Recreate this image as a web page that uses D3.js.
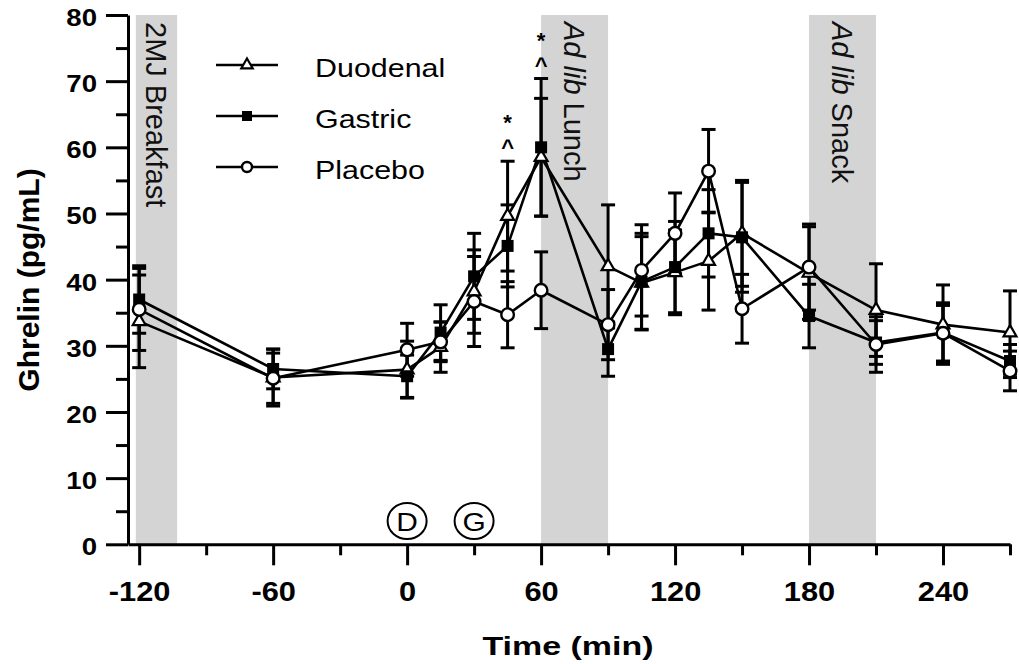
<!DOCTYPE html>
<html lang="en">
<head>
<meta charset="UTF-8">
<title>Ghrelin time course</title>
<script src="https://d3js.org/d3.v7.min.js"></script>
<style>
  html, body { margin: 0; padding: 0; background: #fff; }
  svg { display: block; font-family: "Liberation Sans", Arial, sans-serif; }
</style>
</head>
<body>
<div id="chart"></div>
<script>
// sampling times (min)
const times = [-120, -60, 0, 15, 30, 45, 60, 90, 105, 120, 135, 150, 180, 210, 240, 270];

// mean ghrelin (pg/mL) and SEM per group
const duodenal    = [33.7, 25.2, 26.4, 29.8, 38.2, 49.6, 58.5, 42.0, 39.5, 41.1, 42.8, 47.0, 41.0, 35.4, 33.2, 32.0];
const duodenalSem = [7.0, 4.3, 4.3, 3.8, 6.3, 8.3, 8.9, 9.3, 7.0, 6.4, 7.4, 8.0, 7.0, 7.0, 6.0, 6.3];
const gastric     = [37.0, 26.5, 25.4, 32.0, 40.5, 45.1, 60.0, 29.5, 39.7, 41.9, 47.0, 46.4, 34.5, 30.5, 32.0, 27.7];
const gastricSem  = [5.1, 3.0, 3.2, 4.2, 6.5, 6.2, 10.4, 4.1, 7.3, 6.9, 6.6, 8.3, 4.8, 3.3, 4.5, 2.5];
const placebo     = [35.5, 25.1, 29.4, 30.6, 36.7, 34.7, 38.4, 33.2, 41.4, 47.0, 56.4, 35.6, 41.9, 30.2, 31.9, 26.2];
const placeboSem  = [6.2, 3.8, 4.0, 3.0, 6.8, 5.0, 5.8, 5.3, 6.9, 6.1, 6.3, 5.2, 6.5, 4.2, 4.2, 3.0];

const seriesNames = ['Duodenal', 'Gastric', 'Placebo'];

// meal periods (min)
const mealStart = [-121.5, 60, 180];
const mealEnd   = [-103, 90, 210];
const mealLabels = [
  [['2MJ Breakfast', false]],
  [['Ad lib', true], [' Lunch', false]],
  [['Ad lib', true], [' Snack', false]]
];

// infusion markers and significance marks
const doseTimes  = [0, 30];
const doseLabels = ['D', 'G'];
const sigTimes   = [45, 60];

const xTicks = d3.range(-120, 271, 30);
const yTicks = d3.range(0, 81, 5);

const W = 1019, H = 664;
const svg = d3.select('#chart').append('svg')
  .attr('width', W)
  .attr('height', H);

const x = d3.scaleLinear().domain([-125, 270]).range([128, 1010]);
const y = d3.scaleLinear().domain([0, 80]).range([544.3, 15]);

// stretch text horizontally a bit, the original type is wide
function widen(sel, k) {
  sel.each(function () {
    const w = this.getComputedTextLength();
    if (w > 0) {
      d3.select(this).attr('textLength', w * k).attr('lengthAdjust', 'spacingAndGlyphs');
    }
  });
}

// meal bands
const meals = mealStart.map((s, i) => ({ start: s, end: mealEnd[i], parts: mealLabels[i] }));
svg.selectAll('rect.meal')
  .data(meals)
  .enter()
  .append('rect')
  .attr('class', 'meal')
  .attr('x', d => x(d.start))
  .attr('y', y(80))
  .attr('width', d => x(d.end) - x(d.start))
  .attr('height', y(0) - y(80))
  .attr('fill', '#d4d4d4');

meals.forEach(d => {
  const cx = (x(d.start) + x(d.end)) / 2;
  const t = svg.append('text')
    .attr('transform', `translate(${cx},22) rotate(90)`)
    .attr('dy', '0.35em')
    .attr('font-size', 29)
    .attr('fill', '#111');
  d.parts.forEach(p => {
    t.append('tspan')
      .attr('font-style', p[1] ? 'italic' : 'normal')
      .text(p[0]);
  });
});

// axes
const xAxis = svg.append('g')
  .attr('transform', `translate(0,${y(0)})`)
  .call(d3.axisBottom(x)
    .tickValues(xTicks)
    .tickSize(21)
    .tickSizeOuter(0)
    .tickPadding(16)
    .tickFormat(d => d % 60 === 0 && d <= 240 ? d : ''));
xAxis.selectAll('.tick line').filter(d => d % 60 !== 0).attr('y2', 11);
xAxis.selectAll('line, path').attr('stroke', '#000').attr('stroke-width', 3);
xAxis.selectAll('text')
  .attr('font-size', 28)
  .attr('font-weight', 'bold')
  .attr('font-family', '"Liberation Sans", Arial, sans-serif')
  .attr('fill', '#000')
  .call(widen, 1.1);

const yAxis = svg.append('g')
  .attr('transform', `translate(${x(-125)},0)`)
  .call(d3.axisLeft(y)
    .tickValues(yTicks)
    .tickSize(22)
    .tickSizeOuter(0)
    .tickPadding(9)
    .tickFormat(d => d % 10 === 0 ? d : ''));
yAxis.selectAll('.tick line').filter(d => d % 10 !== 0).attr('x2', -12);
yAxis.selectAll('line, path').attr('stroke', '#000').attr('stroke-width', 3);
yAxis.selectAll('text')
  .attr('font-size', 23)
  .attr('font-weight', 'bold')
  .attr('font-family', '"Liberation Sans", Arial, sans-serif')
  .attr('fill', '#000')
  .attr('dy', '0.45em')
  .call(widen, 1.2);

// axis titles
svg.append('text')
  .attr('x', 568)
  .attr('y', 655)
  .attr('text-anchor', 'middle')
  .attr('font-size', 26)
  .attr('font-weight', 'bold')
  .attr('textLength', 171)
  .attr('lengthAdjust', 'spacingAndGlyphs')
  .text('Time (min)');

svg.append('text')
  .attr('transform', 'translate(39,280) rotate(-90)')
  .attr('text-anchor', 'middle')
  .attr('font-size', 30)
  .attr('font-weight', 'bold')
  .text('Ghrelin (pg/mL)');

// data
const series = [
  { name: seriesNames[0], mean: duodenal, sem: duodenalSem, shape: 'triangle' },
  { name: seriesNames[1], mean: gastric, sem: gastricSem, shape: 'square' },
  { name: seriesNames[2], mean: placebo, sem: placeboSem, shape: 'circle' }
];
series.forEach(s => {
  s.points = times.map((t, i) => ({ t: t, v: s.mean[i], e: s.sem[i] }));
});

const capW = 7;
series.forEach(s => {
  const g = svg.append('g').attr('stroke', '#000').attr('stroke-width', 3);
  s.points.forEach(p => {
    g.append('line')
      .attr('x1', x(p.t)).attr('x2', x(p.t))
      .attr('y1', y(p.v - p.e)).attr('y2', y(p.v + p.e));
    [p.v - p.e, p.v + p.e].forEach(v => {
      g.append('line')
        .attr('x1', x(p.t) - capW).attr('x2', x(p.t) + capW)
        .attr('y1', y(v)).attr('y2', y(v));
    });
  });
});

const line = d3.line().x(d => x(d.t)).y(d => y(d.v));
series.forEach(s => {
  svg.append('path')
    .datum(s.points)
    .attr('d', line)
    .attr('fill', 'none')
    .attr('stroke', '#000')
    .attr('stroke-width', 2.6)
    .attr('stroke-linejoin', 'round');
});

function drawMarker(g, shape, cx, cy, big) {
  if (shape === 'circle') {
    g.append('circle')
      .attr('cx', cx).attr('cy', cy)
      .attr('r', big ? 6.3 : 5)
      .attr('fill', '#fff').attr('stroke', '#000').attr('stroke-width', 2.4);
  } else if (shape === 'square') {
    const s = big ? 12 : 10;
    g.append('rect')
      .attr('x', cx - s / 2).attr('y', cy - s / 2)
      .attr('width', s).attr('height', s)
      .attr('fill', '#000');
  } else {
    g.append('path')
      .attr('transform', `translate(${cx},${cy})`)
      .attr('d', d3.symbol(d3.symbolTriangle, big ? 72 : 56)())
      .attr('fill', '#fff').attr('stroke', '#000').attr('stroke-width', 2.2);
  }
}

series.forEach(s => {
  const g = svg.append('g');
  s.points.forEach(p => drawMarker(g, s.shape, x(p.t), y(p.v), true));
});

// significance marks: caret above the top error bar, asterisk above that
sigTimes.forEach(t => {
  const i = times.indexOf(t);
  const top = d3.max(series, s => s.mean[i] + s.sem[i]);
  const caretBase = y(top) - 18 + 12;
  svg.append('text')
    .attr('x', x(t)).attr('y', caretBase)
    .attr('text-anchor', 'middle')
    .attr('font-size', 22).attr('font-weight', 'bold')
    .text('^');
  svg.append('text')
    .attr('x', x(t)).attr('y', caretBase - 25)
    .attr('text-anchor', 'middle')
    .attr('font-size', 22).attr('font-weight', 'bold')
    .text('*');
});

// infusion markers
doseTimes.forEach((t, i) => {
  svg.append('ellipse')
    .attr('cx', x(t)).attr('cy', 521)
    .attr('rx', 19.5).attr('ry', 18)
    .attr('fill', '#fff').attr('stroke', '#000').attr('stroke-width', 2);
  svg.append('text')
    .attr('x', x(t)).attr('y', 530.5)
    .attr('text-anchor', 'middle')
    .attr('font-size', 26)
    .text(doseLabels[i])
    .call(widen, 1.15);
});

// legend
const legend = svg.append('g');
series.forEach((s, i) => {
  const ly = 65 + i * 51;
  legend.append('line')
    .attr('x1', 216).attr('x2', 278)
    .attr('y1', ly).attr('y2', ly)
    .attr('stroke', '#000').attr('stroke-width', 2.6);
  drawMarker(legend, s.shape, 247, ly, false);
  legend.append('text')
    .attr('x', 315).attr('y', ly + 11.5)
    .attr('font-size', 26)
    .text(s.name)
    .call(widen, 1.17);
});
</script>
</body>
</html>
